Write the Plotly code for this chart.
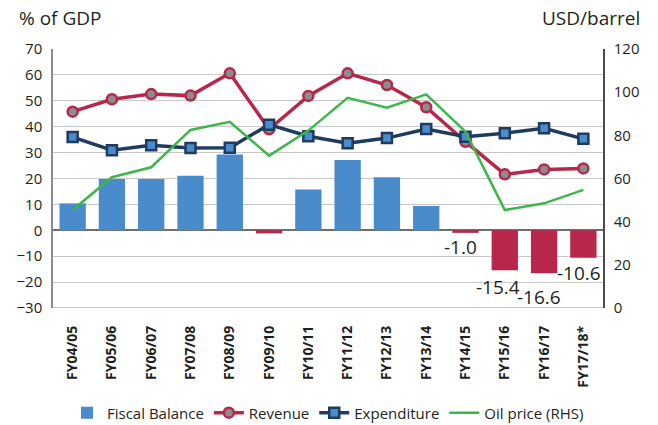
import plotly.graph_objects as go

categories = ["FY04/05", "FY05/06", "FY06/07", "FY07/08", "FY08/09", "FY09/10", "FY10/11",
              "FY11/12", "FY12/13", "FY13/14", "FY14/15", "FY15/16", "FY16/17", "FY17/18*"]
fiscal_balance = [10.4, 19.8, 19.8, 21.1, 29.3, -1.2, 15.8, 27.1, 20.5, 9.4, -1.0, -15.4, -16.6, -10.6]
revenue = [45.8, 50.6, 52.6, 52.0, 60.6, 39.0, 51.9, 60.6, 56.1, 47.5, 34.2, 21.6, 23.5, 23.9]
expenditure = [36.0, 30.9, 32.8, 31.8, 31.9, 40.8, 36.3, 33.6, 35.6, 39.1, 36.1, 37.5, 39.4, 35.3]
oil_price = [45.4, 60.6, 65.2, 82.5, 86.3, 70.6, 82.2, 97.4, 92.8, 99.0, 81.7, 45.4, 48.5, 54.7]
labelled = ["FY14/15", "FY15/16", "FY16/17", "FY17/18*"]
label_shift = {"FY14/15": (-5, -14), "FY15/16": (-7, -17), "FY16/17": (-5, -24), "FY17/18*": (-4, -15)}

BLUE = "#4A8CCB"
CRIMSON = "#B8264B"
NAVY = "#1F3B5E"
GREEN = "#3DB64A"
TXT = "#231F20"
FONT = "Open Sans, sans-serif"

bar_colors = [BLUE if v >= 0 else CRIMSON for v in fiscal_balance]

fig = go.Figure()
fig.add_trace(go.Bar(x=categories, y=fiscal_balance, name="Fiscal Balance",
                     marker=dict(color=bar_colors, line=dict(width=0))))
fig.add_trace(go.Scatter(x=categories, y=revenue, name="Revenue", mode="lines+markers",
                         line=dict(color=CRIMSON, width=3.5),
                         marker=dict(symbol="circle", size=10, color="#8C8C8C",
                                     line=dict(color=CRIMSON, width=2.5))))
fig.add_trace(go.Scatter(x=categories, y=expenditure, name="Expenditure", mode="lines+markers",
                         line=dict(color=NAVY, width=3.5),
                         marker=dict(symbol="square", size=10, color=BLUE,
                                     line=dict(color=NAVY, width=2.5))))
fig.add_trace(go.Scatter(x=categories, y=oil_price, name="Oil price (RHS)", mode="lines",
                         line=dict(color=GREEN, width=2.5), yaxis="y2"))

for c in labelled:
    v = fiscal_balance[categories.index(c)]
    dx, dy = label_shift[c]
    fig.add_annotation(x=c, y=v, text=f"{v:.1f}", showarrow=False, xshift=dx, yshift=dy,
                       yanchor="middle", font=dict(size=19, color=TXT, family=FONT))

fig.add_annotation(xref="paper", yref="paper", x=-0.065, y=1.12, xanchor="left", yanchor="middle",
                   text="% of GDP", showarrow=False, font=dict(size=19, color=TXT, family=FONT))
fig.add_annotation(xref="paper", yref="paper", x=1.07, y=1.12, xanchor="right", yanchor="middle",
                   text="USD/barrel", showarrow=False, font=dict(size=19, color=TXT, family=FONT))

fig.update_layout(
    width=658, height=425,
    margin=dict(l=53, r=55, t=49, b=117, autoexpand=False),
    paper_bgcolor="white", plot_bgcolor="white",
    font=dict(family=FONT, color=TXT),
    bargap=0.33,
    showlegend=True,
    legend=dict(orientation="h", x=0.5, xanchor="center", y=-0.405, yanchor="middle",
                font=dict(size=15, color=TXT, family=FONT), itemwidth=30,
                traceorder="normal"),
    xaxis=dict(type="category", tickangle=-90, showgrid=False, showline=False,
               range=[-0.5, 13.5],
               ticks="", ticklabelstandoff=14, automargin=False,
               tickfont=dict(size=14, color=TXT, family=FONT, weight="bold")),
    yaxis=dict(range=[-30, 70], dtick=10, showgrid=True, gridcolor="#C8C8C8", gridwidth=1,
               zeroline=True, zerolinecolor="#6E6E6E", zerolinewidth=2, automargin=False,
               showline=True, linecolor="#8C8C8C", linewidth=1.5, ticks="",
               ticklabelstandoff=6, tickfont=dict(size=15, color=TXT, family=FONT)),
    yaxis2=dict(range=[0, 120], dtick=20, overlaying="y", side="right", showgrid=False,
                zeroline=False, showline=True, linecolor="#4A4A4A", linewidth=1.5, ticks="",
                automargin=False,
                ticklabelstandoff=6, tickfont=dict(size=15, color=TXT, family=FONT)),
)
fig.add_shape(type="line", xref="paper", yref="y", x0=0, x1=1, y0=-30, y1=-30,
              line=dict(color="#B4B4B4", width=1.5))

fig.write_html("out.html", config={"displayModeBar": False},
               post_script="document.body.style.margin='0';document.body.style.padding='0';")
